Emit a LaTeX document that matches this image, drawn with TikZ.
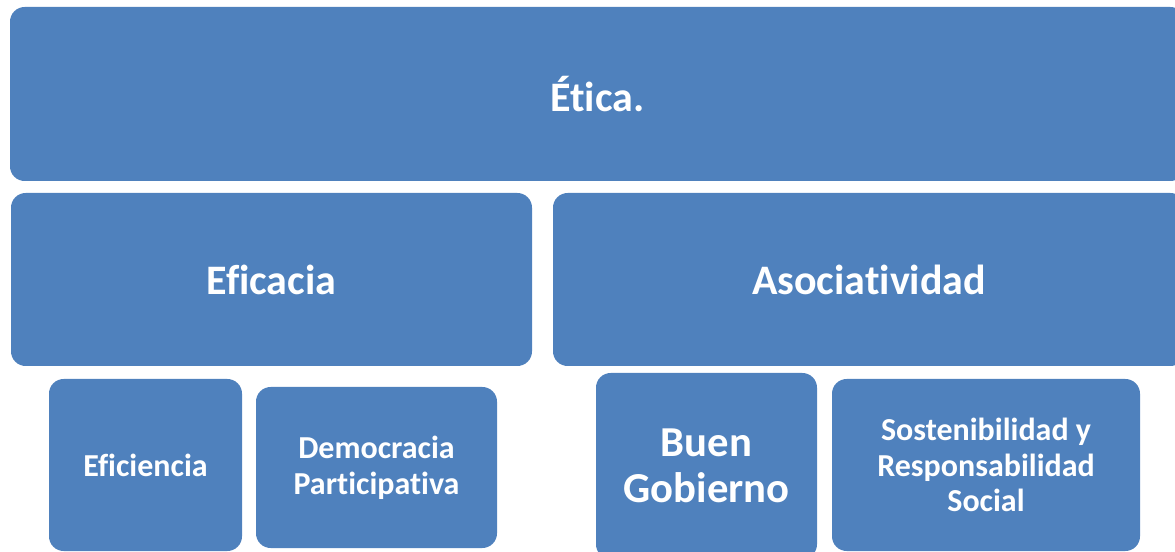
\documentclass[tikz,border=0pt]{standalone}
\usepackage{fontspec}
\setmainfont[Ligatures=NoCommon]{Carlito}
\usetikzlibrary{calc}
\definecolor{boxblue}{RGB}{79,129,189}
\tikzset{
 blockbox/.style={fill=boxblue, draw=none, rounded corners=11pt, text=white, font=\bfseries, align=center, inner sep=0pt},
 bigtext/.style={font=\fontsize{31.5}{38}\selectfont\bfseries},
 smalltext/.style={font=\fontsize{24}{26.5}\selectfont\bfseries}
}

\begin{document}
\begin{tikzpicture} [x=0.75pt, y=-0.75pt]
\useasboundingbox (0,0) rectangle (1175,552);
\clip (0,0) rectangle (1175,552);
% top level
\node[blockbox, bigtext, minimum width=881.25pt, minimum height=130.5pt] (etica) at (597.5,94) {Ética.};
% second level
\node[blockbox, bigtext, minimum width=390.75pt, minimum height=129.75pt] (eficacia) at (271.5,279.5) {Eficacia};
\node[blockbox, bigtext, minimum width=474pt, minimum height=129.75pt] (asoc) at (869,279.5) {Asociatividad};
% third level
\node[blockbox, smalltext, minimum width=144.75pt, minimum height=129pt] (eficiencia) at (145.5,465) {Eficiencia};
\node[blockbox, smalltext, font=\fontsize{24}{27}\selectfont\bfseries, minimum width=180.75pt, minimum height=120.75pt] (democracia) at (376.5,467.5) {Democracia\\Participativa};
\node[blockbox, font=\fontsize{32}{34.5}\selectfont\bfseries, minimum width=165.75pt, minimum height=139.5pt] (buen) at (706.5,466) {Buen\\Gobierno};
\node[blockbox, smalltext, minimum width=231pt, minimum height=129pt] (sosten) at (986,465) {Sostenibilidad y\\Responsabilidad\\Social};
\end{tikzpicture}
\end{document}
